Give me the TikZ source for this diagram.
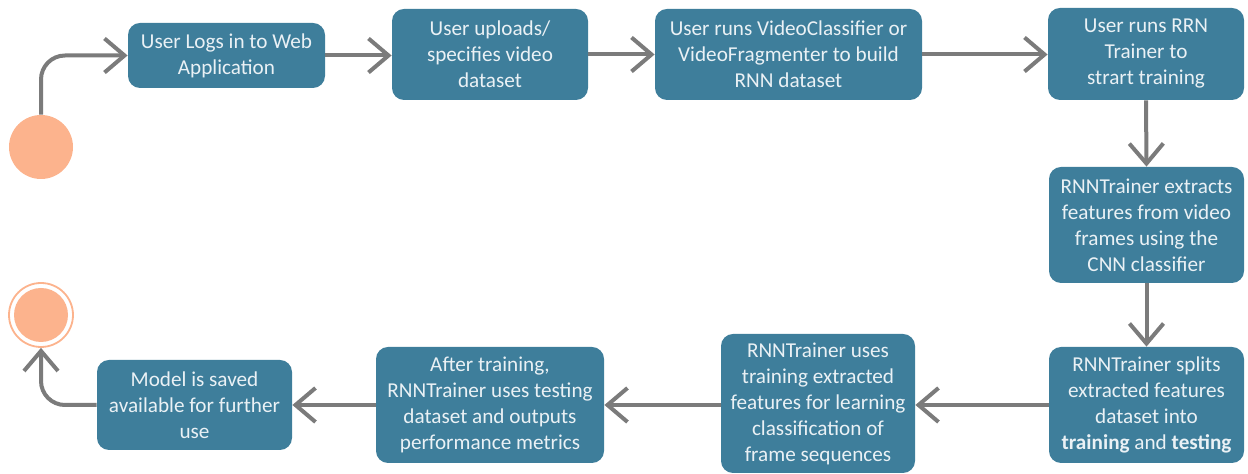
\documentclass[tikz,border=0pt]{standalone}
\usepackage{fontspec}
\setmainfont{Carlito}
\usetikzlibrary{arrows.meta}
\definecolor{boxblue}{HTML}{3E7E9B}
\definecolor{boxtext}{HTML}{EAF1F5}
\definecolor{peach}{HTML}{FCB38D}
\definecolor{arrowgray}{HTML}{7B7B7B}
\tikzset{
  stepbox/.style={draw=none, fill=boxblue, rounded corners=6pt, text=boxtext,
    align=center, font=\fontsize{10.6}{13}\selectfont, inner sep=0pt},
  flow/.style={draw=arrowgray, line width=2pt,
    -{Straight Barb[length=10pt,width=17pt,line width=2pt]}},
}
\begin{document}
\begin{tikzpicture}[x={(0.5pt,0)}, y={(0,-0.5pt)}]
\useasboundingbox (0,0) rectangle (1248,474);
\node[stepbox, minimum width=98.5pt, minimum height=32.5pt] (b1) at (226.5,55.5) {User Logs in to Web\\Application};
\node[stepbox, minimum width=98pt, minimum height=45.5pt] (b2) at (490,54.5) {User uploads/\\specifies video\\dataset};
\node[stepbox, minimum width=133.5pt, minimum height=45.5pt] (b3) at (788.5,54.5) {User runs VideoClassifier or\\VideoFragmenter to build\\RNN dataset};
\node[stepbox, minimum width=98pt, minimum height=46pt] (b4) at (1146,54) {User runs RRN\\Trainer to\\strart training};
\node[stepbox, minimum width=97.5pt, minimum height=58pt] (b5) at (1146.5,225) {RNNTrainer extracts\\features from video\\frames using the\\CNN classifier};
\node[stepbox, minimum width=97.5pt, minimum height=58pt] (b6) at (1146.5,405) {RNNTrainer splits\\extracted features\\dataset into\\\textbf{training} and \textbf{testing}};
\node[stepbox, minimum width=97pt, minimum height=69.5pt] (b7) at (818,403.5) {RNNTrainer uses\\training extracted\\features for learning\\classification of\\frame sequences};
\node[stepbox, minimum width=114pt, minimum height=58pt] (b8) at (490,405) {After training,\\RNNTrainer uses testing\\dataset and outputs\\performance metrics};
\node[stepbox, minimum width=97.5pt, minimum height=45pt] (b9) at (194.5,405) {Model is saved\\available for further\\use};
\node[circle, fill=peach, minimum size=32pt, inner sep=0pt] (s) at (41,147) {};
\node[circle, draw=peach, line width=0.9pt, fill=white, minimum size=32pt, inner sep=0pt] (e) at (41,315) {};
\fill[peach] (e.center) circle[radius=13.5pt];
\draw[flow, rounded corners=12pt] (s.north) |- (b1.west);
\draw[flow] (b1.east) -- (b1.east -| b2.west);
\draw[flow] (b2.east) -- (b2.east -| b3.west);
\draw[flow] (b3.east) -- (b3.east -| b4.west);
\draw[flow] (b4.south) -- (b5.north);
\draw[flow] (b5.south) -- (b6.north);
\draw[flow] (b6.west) -- (b6.west -| b7.east);
\draw[flow] (b6.west -| b7.west) -- (b6.west -| b8.east);
\draw[flow] (b8.west) -- (b8.west -| b9.east);
\draw[flow, rounded corners=12pt] (b9.west) -| (e.south);
\end{tikzpicture}
\end{document}
